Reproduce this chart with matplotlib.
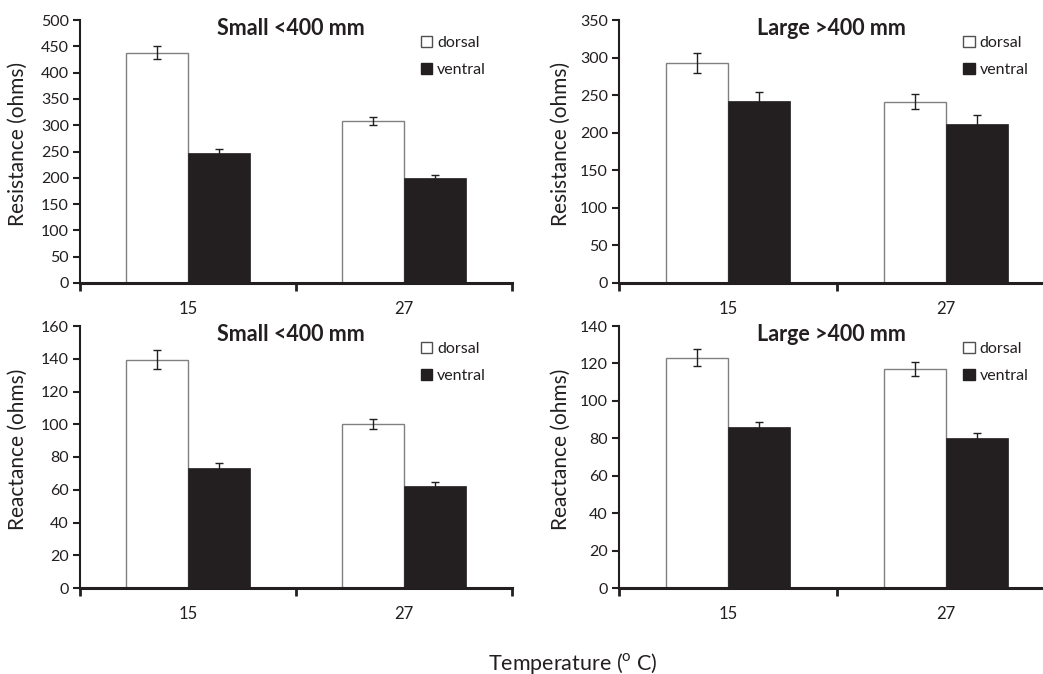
import matplotlib.pyplot as plt
from matplotlib.patches import Patch
import numpy as np

plt.rcParams['font.family'] = ['Lato', 'DejaVu Sans']
plt.rcParams['mathtext.fontset'] = 'custom'
plt.rcParams['mathtext.rm'] = 'Lato'

temps = ['15', '27']
series = ['dorsal', 'ventral']

res_small_dorsal = [438, 308]
res_small_dorsal_err = [12, 7]
res_small_ventral = [247, 199]
res_small_ventral_err = [7, 7]

res_large_dorsal = [293, 241]
res_large_dorsal_err = [13, 10]
res_large_ventral = [242, 211]
res_large_ventral_err = [12, 12]

rea_small_dorsal = [139.5, 100]
rea_small_dorsal_err = [6, 3]
rea_small_ventral = [73, 62]
rea_small_ventral_err = [3.5, 3]

rea_large_dorsal = [123, 117]
rea_large_dorsal_err = [4.5, 3.5]
rea_large_ventral = [86, 80]
rea_large_ventral_err = [2.8, 3]

ink = '#231f20'

panels = [
    # rect, title, ylabel, ymax, step, dorsal, derr, ventral, verr, label offset
    ([80, 20, 432, 263], 'Small <400 mm', 'Resistance (ohms)', 500, 50,
     res_small_dorsal, res_small_dorsal_err, res_small_ventral, res_small_ventral_err, 52),
    ([619, 20, 436, 263], 'Large >400 mm', 'Resistance (ohms)', 350, 50,
     res_large_dorsal, res_large_dorsal_err, res_large_ventral, res_large_ventral_err, 48),
    ([80, 326, 432, 262], 'Small <400 mm', 'Reactance (ohms)', 160, 20,
     rea_small_dorsal, rea_small_dorsal_err, rea_small_ventral, rea_small_ventral_err, 52),
    ([619, 326, 436, 262], 'Large >400 mm', 'Reactance (ohms)', 140, 20,
     rea_large_dorsal, rea_large_dorsal_err, rea_large_ventral, rea_large_ventral_err, 48),
]

W, H = 1043, 674
fig = plt.figure(figsize=(W / 100, H / 100), dpi=100)

x = np.arange(len(temps))
bw = 0.285

for rect, title, ylabel, ymax, step, d, de, v, ve, off in panels:
    px, py, pw, ph = rect
    ax = fig.add_axes([px / W, 1 - (py + ph) / H, pw / W, ph / H])
    ax.bar(x - bw / 2, d, bw, color='white', edgecolor='#808080', linewidth=1, zorder=2)
    ax.bar(x + bw / 2, v, bw, color=ink, edgecolor=ink, linewidth=0.5, zorder=2)
    ax.errorbar(x - bw / 2, d, yerr=de, fmt='none', ecolor=ink, elinewidth=1,
                capsize=3, capthick=1, zorder=3)
    ax.errorbar(x + bw / 2, v, yerr=ve, fmt='none', ecolor=ink, elinewidth=1,
                capsize=3, capthick=1, zorder=3)

    ax.set_xlim(-0.5, 1.5)
    ax.set_ylim(0, ymax)
    ax.set_yticks(np.arange(0, ymax + 1, step))
    ax.set_xticks([-0.5, 0.5, 1.5])
    ax.set_xticklabels([])
    ax.set_xticks(x, minor=True)
    ax.set_xticklabels(temps, minor=True)
    ax.tick_params(axis='x', which='major', direction='out', length=6, width=2, color=ink)
    ax.tick_params(axis='x', which='minor', length=0, pad=13, labelsize=12, labelcolor=ink)
    ax.tick_params(axis='y', direction='out', length=5, width=1.5, color=ink,
                   labelsize=11.5, labelcolor=ink, pad=3)

    for s in ['top', 'right']:
        ax.spines[s].set_visible(False)
    ax.spines['left'].set_linewidth(1.5)
    ax.spines['left'].set_color(ink)
    ax.spines['bottom'].set_linewidth(2.2)
    ax.spines['bottom'].set_color(ink)

    ax.set_ylabel(ylabel, fontsize=15, color=ink)
    ax.yaxis.set_label_coords(-off / pw, 0.53)
    ax.text(0.487, 0.966, title, transform=ax.transAxes, ha='center', va='center',
            fontsize=15.5, fontweight='bold', color=ink)

    handles = [Patch(facecolor='white', edgecolor='#505050', linewidth=1),
               Patch(facecolor=ink, edgecolor=ink)]
    ax.legend(handles, series, loc='upper left', bbox_to_anchor=(0.79, 0.94),
              frameon=False, fontsize=11.5, handlelength=0.7, handleheight=0.7,
              handletextpad=0.3, labelspacing=0.8, borderpad=0, borderaxespad=0,
              labelcolor=ink)

fig.text(573 / W, 1 - 663 / H, r'Temperature ($^\mathrm{o}$ C)', ha='center', va='center',
         fontsize=15.5, color=ink)

fig.savefig('out.png', dpi=100)
